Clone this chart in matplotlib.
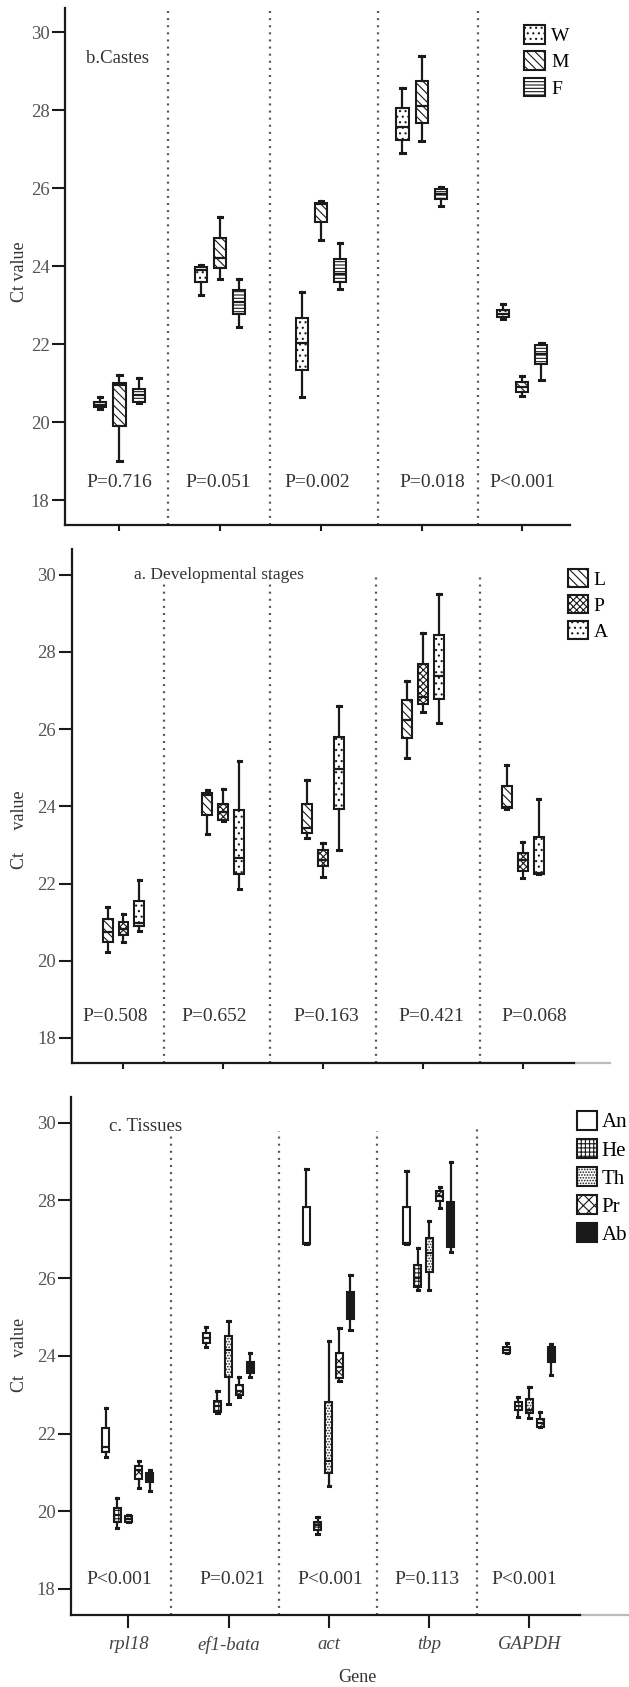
import matplotlib
matplotlib.use("Agg")
import matplotlib.pyplot as plt
from matplotlib.patches import Patch

plt.rcParams['font.family'] = ['Liberation Serif', 'DejaVu Serif']
plt.rcParams['hatch.linewidth'] = 0.8

genes = ["rpl18", "ef1-bata", "act", "tbp", "GAPDH"]

# box stats per gene: [whislo, q1, med, q3, whishi]
castes_W = [[20.33, 20.39, 20.45, 20.52, 20.65], [23.27, 23.60, 23.90, 23.98, 24.03],
            [20.65, 21.33, 22.02, 22.66, 23.34], [26.89, 27.23, 27.56, 28.06, 28.57],
            [22.64, 22.70, 22.78, 22.87, 23.02]]
castes_M = [[19.00, 19.90, 20.95, 21.01, 21.20], [23.68, 23.94, 24.21, 24.73, 25.26],
            [24.68, 25.14, 25.58, 25.63, 25.67], [27.21, 27.66, 28.10, 28.75, 29.38],
            [20.67, 20.76, 20.90, 21.03, 21.18]]
castes_F = [[20.48, 20.52, 20.69, 20.84, 21.12], [22.43, 22.77, 23.08, 23.38, 23.68],
            [23.40, 23.60, 23.80, 24.18, 24.58], [25.55, 25.72, 25.86, 25.97, 26.03],
            [21.08, 21.50, 21.75, 21.97, 22.02]]
castes_p = ["P=0.716", "P=0.051", "P=0.002", "P=0.018", "P<0.001"]

stage_L = [[20.23, 20.49, 20.75, 21.07, 21.38], [23.28, 23.77, 24.30, 24.35, 24.42],
           [23.17, 23.30, 23.45, 24.05, 24.68], [25.24, 25.76, 26.25, 26.75, 27.24],
           [23.93, 23.96, 23.98, 24.52, 25.07]]
stage_P = [[20.49, 20.66, 20.83, 21.00, 21.22], [23.62, 23.64, 23.85, 24.05, 24.44],
           [22.17, 22.45, 22.62, 22.88, 23.04], [26.45, 26.64, 26.83, 27.68, 28.50],
           [22.13, 22.33, 22.60, 22.79, 23.08]]
stage_A = [[20.77, 20.89, 20.98, 21.54, 22.09], [21.85, 22.24, 22.65, 23.90, 25.18],
           [22.86, 23.92, 24.96, 25.80, 26.60], [26.17, 26.79, 27.38, 28.43, 29.49],
           [22.24, 22.24, 22.26, 23.21, 24.18]]
stage_p = ["P=0.508", "P=0.652", "P=0.163", "P=0.421", "P=0.068"]

tissue_An = [[21.39, 21.53, 21.66, 22.15, 22.65], [24.22, 24.34, 24.45, 24.58, 24.73],
             [26.88, 26.88, 26.90, 27.84, 28.80], [26.88, 26.88, 26.90, 27.82, 28.76],
             [24.07, 24.08, 24.15, 24.24, 24.32]]
tissue_He = [[19.56, 19.73, 19.90, 20.09, 20.33], [22.52, 22.56, 22.70, 22.85, 23.10],
             [19.41, 19.52, 19.65, 19.73, 19.86], [25.70, 25.78, 26.00, 26.34, 26.78],
             [22.43, 22.61, 22.70, 22.82, 22.95]]
tissue_Th = [[19.72, 19.73, 19.80, 19.88, 19.90], [22.75, 23.45, 24.15, 24.51, 24.90],
             [20.65, 20.98, 21.29, 22.82, 24.37], [25.70, 26.17, 26.64, 27.04, 27.47],
             [22.39, 22.52, 22.61, 22.89, 23.19]]
tissue_Pr = [[20.59, 20.82, 21.06, 21.17, 21.29], [22.95, 22.99, 23.10, 23.25, 23.46],
             [23.34, 23.42, 23.72, 24.08, 24.71], [27.80, 27.99, 28.12, 28.25, 28.34],
             [22.18, 22.18, 22.27, 22.37, 22.56]]
tissue_Ab = [[20.52, 20.76, 20.88, 20.99, 21.06], [23.45, 23.55, 23.70, 23.85, 24.07],
             [24.67, 24.94, 25.30, 25.65, 26.08], [26.68, 26.81, 26.85, 27.95, 29.00],
             [23.51, 23.85, 24.10, 24.24, 24.31]]
tissue_p = ["P<0.001", "P=0.021", "P<0.001", "P=0.113", "P<0.001"]

INK = "#1a1a1a"


def stats(rows):
    return [dict(whislo=r[0], q1=r[1], med=r[2], q3=r[3], whishi=r[4], fliers=[]) for r in rows]


def panel(ax, groups, offsets, width, p_labels, p_dx, p_y, dividers, div_tops,
          xlim, ylim, xtick_len):
    for (rows, hatch, face), off in zip(groups, offsets):
        pos = [i + off for i in range(len(genes))]
        b = ax.bxp(stats(rows), positions=pos, widths=width, patch_artist=True,
                   showfliers=False, manage_ticks=False, capwidths=width * 0.35,
                   boxprops=dict(facecolor=face, edgecolor=INK, linewidth=1.5, hatch=hatch),
                   medianprops=dict(color=INK, linewidth=1.6),
                   whiskerprops=dict(color=INK, linewidth=1.6),
                   capprops=dict(color=INK, linewidth=2.2))
    for xd, top in zip(dividers, div_tops):
        ax.plot([xd, xd], [ylim[0], top], color="#555555", lw=1.6,
                linestyle=(0, (0.9, 2.3)), zorder=0)
    for i, (t, dx) in enumerate(zip(p_labels, p_dx)):
        ax.text(i + dx, p_y, t, ha="center", va="center", fontsize=14, color="#333333")
    ax.set_xlim(*xlim)
    ax.set_ylim(*ylim)
    ax.set_xticks(range(len(genes)))
    ax.set_yticks([18, 20, 22, 24, 26, 28, 30])
    ax.tick_params(axis="y", length=9.5, width=1.5, pad=2, labelsize=13.5,
                   labelcolor="#555555", color=INK)
    ax.tick_params(axis="x", length=xtick_len, width=1.5, color=INK)
    for s in ("top", "right"):
        ax.spines[s].set_visible(False)
    for s in ("left", "bottom"):
        ax.spines[s].set_linewidth(1.6)
        ax.spines[s].set_color(INK)


fig = plt.figure(figsize=(6.29, 16.87), dpi=100)

# b. Castes
ax_b = fig.add_axes([0.104, 0.6888, 0.8016, 0.3065])
panel(ax_b, [(castes_W, "...", "white"), (castes_M, "\\\\\\\\", "white"),
             (castes_F, "-----", "white")],
      [-0.19, 0, 0.19], 0.12, castes_p, [0, -0.02, -0.04, 0.11, 0], 18.44,
      [0.48, 1.49, 2.57, 3.56], [30.62] * 4, (-0.537, 4.47), (17.36, 30.62), 4)
ax_b.set_xticklabels([])
ax_b.text(-0.33, 29.33, "b.Castes", ha="left", va="center", fontsize=13.5, color="#333333")
ax_b.legend(handles=[Patch(facecolor="white", edgecolor=INK, hatch="...", lw=1.5),
                     Patch(facecolor="white", edgecolor=INK, hatch="\\\\\\\\", lw=1.5),
                     Patch(facecolor="white", edgecolor=INK, hatch="-----", lw=1.5)],
            labels=["W", "M", "F"], loc="upper left", bbox_to_anchor=(0.909, 0.967),
            frameon=False, fontsize=14, handlelength=1.1, handleheight=1.1,
            handletextpad=0.3, labelspacing=0.33, borderpad=0, borderaxespad=0)

# a. Developmental stages
ax_a = fig.add_axes([0.1148, 0.3697, 0.797, 0.3049])
panel(ax_a, [(stage_L, "\\\\\\\\", "white"), (stage_P, "xxxxx", "white"),
             (stage_A, "...", "white")],
      [-0.16, 0, 0.16], 0.1, stage_p, [-0.08, -0.09, 0.03, 0.08, 0.12], 18.55,
      [0.41, 1.47, 2.53, 3.57], [29.8, 29.94, 29.98, 29.96], (-0.514, 4.51),
      (17.34, 30.67), 4)
ax_a.set_xticklabels([])
ax_a.axhline(ax_a.get_ylim()[0], 1.0, 1.072, color="#bbbbbb", lw=1.6, clip_on=False)
ax_a.text(0.11, 30.0, "a. Developmental stages", ha="left", va="center", fontsize=12.5,
          color="#333333")
ax_a.legend(handles=[Patch(facecolor="white", edgecolor=INK, hatch="\\\\\\\\", lw=1.5),
                     Patch(facecolor="white", edgecolor=INK, hatch="xxxxx", lw=1.5),
                     Patch(facecolor="white", edgecolor=INK, hatch="...", lw=1.5)],
            labels=["L", "P", "A"], loc="upper left", bbox_to_anchor=(0.988, 0.961),
            frameon=False, fontsize=14, handlelength=1.05, handleheight=1.05,
            handletextpad=0.3, labelspacing=0.33, borderpad=0, borderaxespad=0)

# c. Tissues
ax_c = fig.add_axes([0.1135, 0.0427, 0.808, 0.3072])
panel(ax_c, [(tissue_An, None, "white"), (tissue_He, "++++", "white"),
             (tissue_Th, "......", "white"), (tissue_Pr, "xxx", "white"),
             (tissue_Ab, None, INK)],
      [-0.225, -0.113, 0, 0.105, 0.215], 0.07, tissue_p, [-0.09, 0.04, 0.01, -0.02, -0.05],
      18.25, [0.43, 1.5, 2.48, 3.48], [29.65, 29.78, 29.78, 29.95], (-0.568, 4.5),
      (17.33, 30.67), 9.5)
ax_c.axhline(ax_c.get_ylim()[0], 1.0, 1.097, color="#bbbbbb", lw=1.6, clip_on=False)
ax_c.set_xticklabels(genes, fontstyle="italic", fontsize=13.5, color="#444444")
ax_c.tick_params(axis="x", pad=6)
ax_c.text(-0.19, 29.9, "c. Tissues", ha="left", va="center", fontsize=13.5, color="#333333")
ax_c.legend(handles=[Patch(facecolor="white", edgecolor=INK, lw=1.5),
                     Patch(facecolor="white", edgecolor=INK, hatch="++++", lw=1.5),
                     Patch(facecolor="white", edgecolor=INK, hatch="......", lw=1.5),
                     Patch(facecolor="white", edgecolor=INK, hatch="xxx", lw=1.5),
                     Patch(facecolor=INK, edgecolor=INK, lw=1.5)],
            labels=["An", "He", "Th", "Pr", "Ab"], loc="upper left",
            bbox_to_anchor=(0.994, 0.973), frameon=False, fontsize=15,
            handlelength=1.0, handleheight=1.05, handletextpad=0.2, labelspacing=0.3,
            borderpad=0, borderaxespad=0)

# axis titles
fig.text(20 / 629, 1 - 272 / 1687, "Ct value", rotation=90, ha="center", va="center",
         fontsize=13, color="#333333")
fig.text(20 / 629, 1 - 830 / 1687, "Ct     value", rotation=90, ha="center", va="center",
         fontsize=13, color="#333333")
fig.text(20 / 629, 1 - 1355 / 1687, "Ct    value", rotation=90, ha="center", va="center",
         fontsize=13, color="#333333")
fig.text(357 / 629, 1 - 1678 / 1687, "Gene", ha="center", va="center", fontsize=13,
         color="#333333")

fig.savefig("out.png", dpi=100, facecolor="white")
